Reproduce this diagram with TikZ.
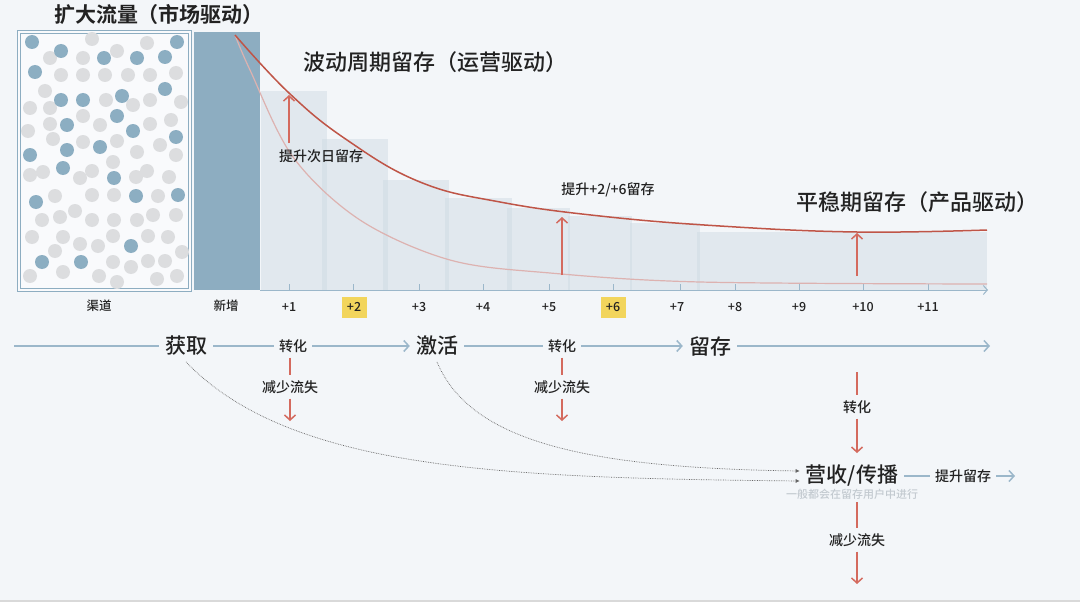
\documentclass[tikz,border=0pt]{standalone}
\usepackage{fontspec}
\setmainfont{Noto Sans CJK SC}[UprightFont=* Medium, BoldFont=* Bold]
\usetikzlibrary{arrows.meta}

\definecolor{bg}{HTML}{F3F6F9}
\definecolor{chan}{HTML}{8DADC1}
\definecolor{barfill}{HTML}{CCD9E2}
\definecolor{flowblue}{HTML}{9BB7CA}
\definecolor{curvered}{HTML}{BF5547}
\definecolor{curvepink}{HTML}{DDB2B0}
\definecolor{lossred}{HTML}{D46A5E}
\definecolor{dotgrey}{HTML}{DCDDDF}
\definecolor{dotblue}{HTML}{8CAEC2}
\definecolor{hl}{HTML}{F2D55C}
\definecolor{ink}{HTML}{222222}
\definecolor{notegrey}{HTML}{C3CAD0}

\tikzset{
  title/.style={font=\fontsize{22}{26}\selectfont, text=ink, inner sep=0pt},
  big/.style={font=\fontsize{21}{25}\selectfont, text=ink, inner sep=6pt},
  small/.style={font=\fontsize{14}{16}\selectfont, text=ink, inner sep=5pt},
  tick/.style={font=\fontsize{12.5}{14}\selectfont, text=ink, inner sep=0pt},
  flow/.style={draw=flowblue, line width=1.5pt},
  loss/.style={draw=lossred, line width=1.5pt},
  tip/.style={-{Straight Barb[length=5pt,width=11pt,line width=1.5pt]}},
  hint/.style={draw=gray!80!black, densely dotted, line width=0.7pt, -{Latex[length=4pt,width=4pt]}},
}

\begin{document}
\begin{tikzpicture}[x=1pt, y=-1pt]

\fill[bg] (0,0) rectangle (1080,602);
\fill[black!15] (0,600) rectangle (1080,602);
\useasboundingbox (0,0) rectangle (1080,602);

\node[title, font=\fontsize{21}{25}\selectfont\bfseries] (flowT) at (159,15) {扩大流量（市场驱动）};
\node[title] (waveT) at (435,62) {波动周期留存（运营驱动）};
\node[title] (flatT) at (917,202) {平稳期留存（产品驱动）};

\filldraw[fill=white!50!bg, draw=chan, double=white!50!bg, double distance=1.2pt, line width=1.1pt] (19,32) rectangle (190,290);
\foreach \x/\y in {92/39,147/43,50/58,83/58,117/51,61/75,83/75,105/75,128/75,150/75,176/73,45/91,30/108,50/108,106/100,133/105,150/100,181/102,83/116,50/124,100/125,150/124,171/120,28/131,53/139,83/142,117/141,160/145,137/152,176/155,113/162,30/175,43/172,80/178,92/171,136/177,147/171,169/177,55/196,92/195,114/195,158/196,42/220,60/217,75/211,92/220,114/220,137/220,153/215,176/215,32/237,63/237,55/251,80/244,98/246,113/236,148/236,168/237,182/252,113/262,131/267,148/261,165/261,30/276,63/272,99/276,117/282,157/279,177/276}
  \fill[dotgrey] (\x,\y) circle (7);
\foreach \x/\y in {32/42,61/51,104/58,137/58,165/57,177/42,35/72,165/89,61/100,83/100,122/96,117/116,67/125,133/131,176/137,30/155,67/150,100/147,63/168,114/178,136/196,178/195,36/202,131/246,42/262,81/262}
  \fill[dotblue] (\x,\y) circle (7);

\fill[chan] (194,32) rectangle (260,290);
\foreach \l/\r/\t in {261/327/91,322/388/139,383/449/180,445/512/198,507/570/208,568/632/216,630/700/223,697/987/232}
  \fill[barfill, fill opacity=0.45] (\l,\t) rectangle (\r,290);

\draw[flowblue, line width=1pt, -{Straight Barb[length=4pt,width=9pt,line width=1pt]}] (260,290) -- (988,290);
\foreach \x in {289,353,419,483,549,613,680,735,799,863,928}
  \draw[flowblue, line width=1pt] (\x,284) -- (\x,290);

\node[tick] (chanL) at (99,306) {渠道};
\node[tick] (newL) at (226,306) {新增};
\foreach \x/\d in {289/1,419/3,483/4,549/5,677/7,735/8,799/9,863/10,928/11}
  \node[tick] at (\x,307) {+\d};
\node[tick, fill=hl, minimum width=25pt, minimum height=21pt] (dayTwo) at (354,307) {+2};
\node[tick, fill=hl, minimum width=25pt, minimum height=21pt] (daySix) at (613,307) {+6};

\draw[curvepink, line width=1.2pt] plot[smooth, tension=0.55] coordinates {(235,35) (250,70) (293,157) (360,220) (450,260) (550,273) (700,282) (987,284)};
\draw[curvered, line width=1.5pt] plot[smooth, tension=0.7] coordinates {(235,35) (289,93) (347,140) (420,182) (500,202) (600,216) (720,226) (857,232) (987,230)};

\coordinate (liftA) at (289,143);  \coordinate (topA) at (289,95);
\coordinate (liftB) at (562,275);  \coordinate (topB) at (562,217);
\coordinate (liftC) at (857,276);  \coordinate (topC) at (857,233);
\draw[loss, tip] (liftA) -- (topA);
\draw[loss, tip] (liftB) -- (topB);
\draw[loss, tip] (liftC) -- (topC);
\node[small, inner sep=0pt] (liftAL) at (321,156) {提升次日留存};
\node[small, inner sep=0pt] (liftBL) at (608,190) {提升+2/+6留存};

\coordinate (start) at (14,346);
\coordinate (stop) at (990,346);
\node[big] (get) at (186,346) {获取};
\node[small] (conv1) at (293,346) {转化};
\node[big] (act) at (437,346) {激活};
\node[small] (conv2) at (562,346) {转化};
\node[big] (keep) at (710,346) {留存};

\node[small] (loss1) at (290,387) {减少流失};
\coordinate (lossEnd1) at (290,421);
\node[small] (loss2) at (562,387) {减少流失};
\coordinate (lossEnd2) at (562,421);

\coordinate (keepDrop) at (857,372);
\node[small] (conv3) at (857,407) {转化};
\node[big] (rev) at (852,476) {营收/传播};
\node[font=\fontsize{11}{12}\selectfont, text=notegrey, inner sep=3pt] (note) at (852,494) {一般都会在留存用户中进行};
\node[small] (loss3) at (857,540) {减少流失};
\coordinate (lossEnd3) at (857,584);
\node[small] (boost) at (963,476) {提升留存};
\coordinate (boostEnd) at (1015,476);

\draw[flow] (start) -- (get);
\draw[flow] (get) -- (conv1);
\draw[flow, tip] (conv1) -- (act);
\draw[flow] (act) -- (conv2);
\draw[flow, tip] (conv2) -- (keep);
\draw[flow, tip] (keep) -- (stop);
\draw[flow] (rev) -- (boost);
\draw[flow, tip] (boost) -- (boostEnd);

\draw[loss] (conv1.south -| loss1) -- (loss1);
\draw[loss, tip] (loss1) -- (lossEnd1);
\draw[loss] (conv2) -- (loss2);
\draw[loss, tip] (loss2) -- (lossEnd2);
\draw[loss] (keepDrop) -- (conv3);
\draw[loss, tip, shorten >=6pt] (conv3) -- (conv3 |- rev.north);
\draw[loss] (note.south -| loss3) -- (loss3);
\draw[loss, tip] (loss3) -- (lossEnd3);

\draw[hint] (act.south) .. controls (470,440) and (580,468) .. ([yshift=5pt]rev.west);
\draw[hint] (get.south) .. controls (290,470) and (500,478) .. ([yshift=-5pt]rev.west);

\end{tikzpicture}
\end{document}
